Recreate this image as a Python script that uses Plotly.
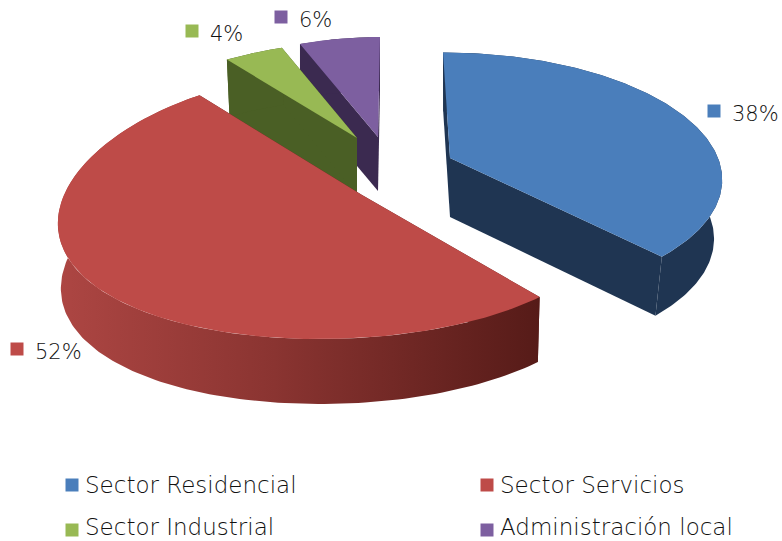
import numpy as np
import plotly.graph_objects as go

categories = ["Sector Residencial", "Sector Servicios", "Sector Industrial", "Administración local"]
values = [38, 52, 4, 6]
top_colors = ["#4a7ebb", "#be4b48", "#98b954", "#7d5fa0"]
side_colors = ["#1f3552", "#5d1e1b", "#4a5f25", "#3b2a50"]

# Projection of each exploded slice: apex, radii (left/right, back/front), shear, perspective, depth, base scale
geometry = [
    dict(ax=450, ay=158, sxl=268, sxr=268, syb=121, syf=121, shb=8, shf=8, p=0.146, d=59, bs=0.97),
    dict(ax=362, ay=195, sxl=298, sxr=247, syb=143, syf=119, shb=26, shf=-35, p=0.174, d=65, bs=0.99),
    dict(ax=357, ay=138, sxl=242, sxr=242, syb=97, syf=97, shb=-15, shf=-15, p=0.0, d=57, bs=0.98),
    dict(ax=378, ay=137, sxl=217, sxr=217, syb=100, syf=100, shb=-2, shf=-2, p=0.0, d=54, bs=1.0),
]
label_pos = [(714, 111), (17, 349), (192, 31), (281, 17)]
legend_pos = [(72, 485), (487, 485), (72, 530), (487, 530)]
legend_text_y = [485, 485, 527, 527]


def blend(neg, pos, t):
    return (neg + pos) / 2 + (pos - neg) / 2 * t


def project(g, theta):
    u, v = np.sin(theta), -np.cos(theta)
    f = 1 / (1 - g["p"] * v)
    sx = blend(g["sxl"], g["sxr"], u)
    sy = blend(g["syb"], g["syf"], v)
    sh = blend(g["shb"], g["shf"], v)
    return g["ax"] + (sx * u + sh * v) * f, g["ay"] + sy * v * f


fig = go.Figure()
total = sum(values)
edges = np.cumsum([0] + values) / total * 2 * np.pi
parts = []
for i in range(len(values)):
    g = geometry[i]
    th = np.linspace(edges[i], edges[i + 1], 160)
    x, y = project(g, th)
    parts.append((g, x, y))


def poly(px, py, **kw):
    fig.add_trace(go.Scatter(x=list(px), y=list(py), mode="lines", fill="toself",
                             line=dict(width=0), hoverinfo="skip", showlegend=False, **kw))


def draw(i):
    g, x, y = parts[i]
    d, bs = g["d"], g["bs"]
    ax, ay = g["ax"], g["ay"]
    bx = ax + (x - ax) * bs
    by = y + d
    # radial cut faces
    for k in (0, -1):
        poly([x[k], ax, ax, bx[k], x[k]], [y[k], ay, ay + d, by[k], y[k]], fillcolor=side_colors[i])
    # outer wall
    wall_x = np.r_[x, bx[::-1], x[0]]
    wall_y = np.r_[y, by[::-1], y[0]]
    if i == 1:
        poly(wall_x, wall_y, fillgradient=dict(type="horizontal",
             colorscale=[[0, "#ad4643"], [0.45, "#8a3431"], [1, "#561b18"]]))
    else:
        poly(wall_x, wall_y, fillcolor=side_colors[i])
    # top surface
    poly(np.r_[ax, x, ax], np.r_[ay, y, ay], fillcolor=top_colors[i])


for i in (3, 2, 0, 1):
    draw(i)

# data labels and legend keys
FONT = "DejaVu Sans Light, DejaVu Sans"
for i, cat in enumerate(categories):
    lx, ly = label_pos[i]
    kx, ky = legend_pos[i]
    fig.add_trace(go.Scatter(x=[lx, kx], y=[ly, ky], mode="markers", name=cat, showlegend=False,
                             marker=dict(symbol="square", size=13, color=top_colors[i]), hoverinfo="skip"))
    fig.add_annotation(x=lx + 16, y=ly + 3, text=f"{values[i] / total * 100:.0f}%", showarrow=False,
                       xanchor="left", yanchor="middle", font=dict(family=FONT, size=21, color="#111111"))
    fig.add_annotation(x=kx + 11, y=legend_text_y[i], text=cat, showarrow=False,
                       xanchor="left", yanchor="middle", font=dict(family=FONT, size=23, color="#111111"))

fig.update_layout(
    width=782, height=541, margin=dict(l=0, r=0, t=0, b=0),
    paper_bgcolor="white", plot_bgcolor="white", showlegend=False,
    xaxis=dict(range=[0, 782], visible=False, fixedrange=True),
    yaxis=dict(range=[541, 0], visible=False, fixedrange=True),
)
fig.write_html("out.html", config=dict(displayModeBar=False),
               post_script="document.body.style.margin='0';document.documentElement.style.overflow='hidden';")
